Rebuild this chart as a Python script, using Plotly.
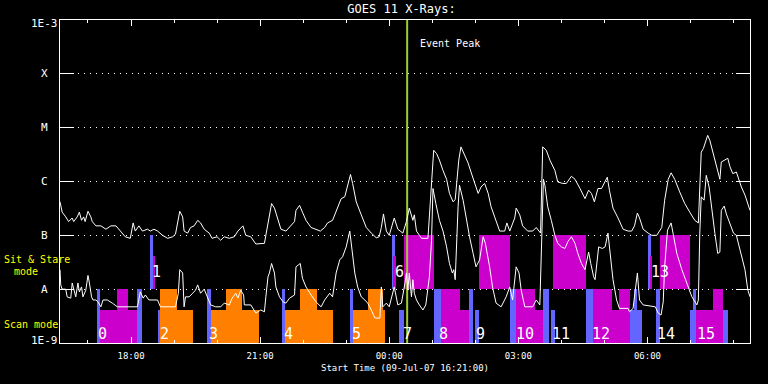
import numpy as np
import pandas as pd
import plotly.graph_objects as go

START = pd.Timestamp("2007-07-09 16:21:00")
WINDOW_MIN = 962  # plotted window length, minutes after start

# GOES 11 long channel (1-8 A), minutes after start / flux W m^-2
long_t = [0, 3, 8, 12, 17, 19, 24, 27, 30, 33,
          35, 39, 43, 45, 50, 57, 64, 71, 78, 84,
          91, 98, 102, 105, 110, 115, 122, 126, 131, 136,
          143, 150, 157, 161, 167, 171, 173, 178, 182, 187,
          192, 196, 201, 208, 212, 219, 224, 229, 236, 243,
          248, 255, 259, 266, 273, 285, 287, 290, 292, 295,
          299, 304, 308, 315, 320, 327, 329, 334, 338, 343,
          350, 357, 363, 369, 373, 380, 385, 392, 397, 401,
          405, 408, 413, 420, 427, 434, 441, 445, 448, 451,
          455, 459, 466, 471, 478, 483, 487, 492, 494, 497,
          501, 504, 513, 516, 519, 521, 525, 529, 534, 539,
          543, 548, 551, 553, 556, 559, 564, 569, 573, 578,
          583, 587, 592, 597, 601, 606, 613, 620, 623, 627,
          634, 636, 641, 645, 652, 659, 664, 670, 672, 673,
          678, 683, 690, 694, 701, 706, 713, 718, 725, 732,
          737, 741, 745, 750, 755, 759, 763, 766, 771, 778,
          785, 792, 797, 801, 805, 808, 813, 820, 825, 832,
          839, 843, 848, 852, 857, 864, 871, 878, 885, 890,
          892, 894, 897, 899, 903, 906, 911, 915, 920, 922,
          927, 931, 934, 938, 943, 946, 950, 955, 959, 962]
long_flux = [4.2e-7, 2.7e-7, 2.2e-7, 1.8e-7, 2.1e-7, 1.8e-7, 2.2e-7, 2.7e-7, 1.9e-7, 2.2e-7,
             1.8e-7, 2.8e-7, 2.2e-7, 1.8e-7, 1.5e-7, 1.5e-7, 1.3e-7, 1.5e-7, 1.5e-7, 1.2e-7,
             9.4e-8, 8.8e-8, 1.7e-7, 1.2e-7, 1.5e-7, 1.2e-7, 1.3e-7, 1.2e-7, 1.3e-7, 1.2e-7,
             1.0e-7, 8.8e-8, 9.4e-8, 1.05e-7, 2.8e-7, 2.2e-7, 1.2e-7, 1.1e-7, 1.4e-7, 1.5e-7,
             1.9e-7, 1.7e-7, 1.3e-7, 1.1e-7, 8.8e-8, 9.4e-8, 8.1e-8, 9.4e-8, 8.8e-8, 9.4e-8,
             1.2e-7, 1.5e-7, 1.0e-7, 9.4e-8, 6.9e-8, 7.1e-8, 1.0e-7, 1.9e-7, 2.7e-7, 3.9e-7,
             3.2e-7, 1.9e-7, 1.3e-7, 1.2e-7, 1.4e-7, 1.8e-7, 2.9e-7, 3.6e-7, 2.7e-7, 1.9e-7,
             1.4e-7, 1.3e-7, 1.2e-7, 1.4e-7, 1.7e-7, 1.9e-7, 2.9e-7, 4.8e-7, 5.2e-7, 8.5e-7,
             1.35e-6, 9.2e-7, 4.2e-7, 2.4e-7, 1.4e-7, 1.1e-7, 9.0e-8, 9.4e-8, 1.4e-7, 2.5e-7,
             1.2e-7, 1.0e-7, 2.1e-7, 1.3e-7, 1.1e-7, 1.8e-7, 3.2e-7, 1.9e-7, 2.4e-7, 1.2e-7,
             1.0e-7, 8.8e-8, 8.8e-8, 3.4e-7, 1.4e-6, 3.8e-6, 3.3e-6, 2.5e-6, 1.6e-6, 1.1e-6,
             6.0e-7, 4.2e-7, 4.6e-7, 9.2e-7, 2.5e-6, 4.4e-6, 3.1e-6, 2.2e-6, 1.5e-6, 9.8e-7,
             6.0e-7, 7.9e-7, 9.2e-7, 6.0e-7, 3.4e-7, 2.2e-7, 1.2e-7, 1.2e-7, 1.7e-7, 1.2e-7,
             2.1e-7, 3.2e-7, 2.4e-7, 1.5e-7, 1.2e-7, 1.2e-7, 1.4e-7, 1.1e-7, 1.4e-6, 4.4e-6,
             3.8e-6, 2.5e-6, 1.6e-6, 9.8e-7, 9.2e-7, 9.2e-7, 1.25e-6, 1.1e-6, 7.4e-7, 4.8e-7,
             6.9e-7, 6.0e-7, 4.2e-7, 7.4e-7, 7.4e-7, 9.2e-7, 1.2e-6, 6.9e-7, 3.2e-7, 2.1e-7,
             1.3e-7, 1.2e-7, 1.2e-7, 1.5e-7, 2.6e-7, 2.1e-7, 1.3e-7, 1.1e-7, 1.0e-7, 1.0e-7,
             1.4e-7, 4.5e-7, 1.1e-6, 1.45e-6, 1.1e-6, 6.4e-7, 3.9e-7, 2.7e-7, 1.9e-7, 1.7e-7,
             7.9e-7, 3.5e-6, 4.1e-6, 5.1e-6, 7.2e-6, 5.8e-6, 3.3e-6, 1.9e-6, 1.1e-6, 2.3e-6,
             2.5e-6, 2.7e-6, 1.9e-6, 1.4e-6, 1.5e-6, 1.1e-6, 7.9e-7, 5.6e-7, 3.6e-7, 2.9e-7]

# GOES 11 short channel (0.5-4 A)
short_t = [0, 1, 3, 8, 10, 15, 17, 19, 22, 25,
           27, 30, 32, 36, 39, 41, 44, 46, 50, 53,
           57, 60, 66, 73, 80, 108, 110, 112, 116, 119,
           124, 136, 140, 161, 165, 167, 171, 173, 175, 180,
           185, 189, 192, 196, 201, 205, 210, 217, 224, 229,
           236, 240, 245, 248, 252, 256, 257, 266, 273, 280,
           285, 287, 290, 292, 295, 299, 301, 306, 311, 315,
           320, 327, 329, 332, 335, 338, 343, 350, 357, 364,
           369, 376, 380, 385, 390, 394, 399, 404, 407, 411,
           415, 420, 425, 429, 434, 439, 446, 448, 450, 455,
           459, 466, 471, 476, 481, 483, 485, 487, 490, 492,
           494, 497, 501, 506, 510, 515, 518, 520, 524, 529,
           534, 539, 543, 547, 549, 551, 555, 557, 562, 566,
           571, 576, 580, 585, 590, 593, 599, 603, 608, 615,
           622, 627, 631, 636, 640, 643, 648, 659, 664, 669,
           671, 674, 676, 680, 685, 690, 694, 699, 704, 708,
           713, 718, 722, 727, 732, 737, 740, 744, 746, 751,
           756, 760, 764, 767, 771, 776, 780, 792, 794, 799,
           803, 805, 808, 813, 830, 834, 838, 841, 843, 847,
           852, 855, 860, 867, 874, 881, 888, 890, 892, 894,
           898, 901, 905, 908, 913, 917, 920, 922, 926, 929,
           934, 939, 943, 946, 950, 955, 959, 962]
short_flux = [2.3e-8, 1.2e-8, 1.0e-8, 1.0e-8, 7.2e-9, 6.8e-9, 1.3e-8, 1.0e-8, 7.2e-9, 1.3e-8,
              8.9e-9, 1.1e-8, 7.2e-9, 9.6e-9, 1.8e-8, 1.3e-8, 7.2e-9, 6.3e-9, 6.3e-9, 5.8e-9,
              4.7e-9, 6.3e-9, 6.3e-9, 5.5e-9, 4.7e-9, 4.7e-9, 7.2e-9, 8.9e-9, 6.8e-9, 7.8e-9,
              6.3e-9, 6.3e-9, 4.7e-9, 4.7e-9, 8.4e-9, 2.3e-8, 2.0e-8, 4.7e-9, 7.2e-9, 7.2e-9,
              8.4e-9, 9.6e-9, 1.2e-8, 8.4e-9, 1.0e-8, 7.2e-9, 5.1e-9, 4.7e-9, 4.7e-9, 5.5e-9,
              5.1e-9, 6.8e-9, 8.4e-9, 6.8e-9, 9.6e-9, 7.8e-9, 5.1e-9, 5.1e-9, 3.6e-9, 4.1e-9,
              3.8e-9, 7.2e-9, 1.7e-8, 2.0e-8, 3.0e-8, 2.0e-8, 1.1e-8, 7.2e-9, 5.8e-9, 5.5e-9,
              6.8e-9, 7.8e-9, 2.6e-8, 2.8e-8, 3.0e-8, 1.6e-8, 1.1e-8, 7.8e-9, 5.8e-9, 4.7e-9,
              6.3e-9, 8.4e-9, 7.2e-9, 2.0e-8, 3.5e-8, 4.0e-8, 6.1e-8, 1.2e-7, 5.3e-8, 2.0e-8,
              1.1e-8, 7.2e-9, 6.3e-9, 5.5e-9, 4.1e-9, 2.9e-9, 2.9e-9, 1.1e-8, 4.7e-9, 5.5e-9,
              4.7e-9, 1.1e-8, 5.1e-9, 5.5e-9, 1.3e-8, 2.0e-8, 9.6e-9, 2.0e-8, 7.2e-9, 1.5e-8,
              8.4e-9, 6.3e-9, 5.1e-9, 4.1e-9, 5.1e-9, 1.7e-8, 8.1e-8, 7.4e-7, 3.9e-7, 1.9e-7,
              1.2e-7, 6.1e-8, 3.0e-8, 2.0e-8, 2.3e-8, 1.5e-8, 3.4e-7, 8.5e-7, 4.5e-7, 2.2e-7,
              9.4e-8, 4.6e-8, 2.6e-8, 3.5e-8, 9.4e-8, 7.1e-8, 2.6e-8, 1.1e-8, 5.5e-9, 4.7e-9,
              7.2e-9, 1.1e-8, 6.3e-9, 2.6e-8, 2.0e-8, 9.6e-9, 4.7e-9, 4.7e-9, 6.3e-9, 5.1e-9,
              4.0e-8, 1.1e-6, 8.5e-7, 3.4e-7, 1.9e-7, 1.0e-7, 7.1e-8, 6.1e-8, 5.7e-8, 7.6e-8,
              9.4e-8, 7.1e-8, 4.6e-8, 3.0e-8, 2.3e-8, 4.9e-8, 3.0e-8, 1.7e-8, 1.5e-8, 6.1e-8,
              5.7e-8, 6.1e-8, 1.1e-7, 4.6e-8, 1.5e-8, 6.3e-9, 4.4e-9, 4.4e-9, 3.8e-9, 4.4e-9,
              1.3e-8, 2.0e-8, 6.3e-9, 5.1e-9, 4.7e-9, 3.6e-9, 3.3e-9, 5.8e-9, 2.6e-8, 1.25e-7,
              1.7e-7, 1.1e-7, 4.6e-8, 2.3e-8, 1.3e-8, 7.2e-9, 5.1e-9, 6.3e-9, 1.1e-7, 5.2e-7,
              4.5e-7, 1.3e-6, 7.9e-7, 3.4e-7, 1.1e-7, 4.6e-8, 4.9e-8, 2.9e-7, 3.5e-7, 2.5e-7,
              1.7e-7, 1.1e-7, 1.0e-7, 7.1e-8, 4.0e-8, 2.3e-8, 9.6e-9, 7.2e-9]

# Observing blocks: minutes after start, flux extent, block type
block_start = [51, 56, 80, 108, 137.5, 140, 140, 205.5, 210, 231,
               310, 314, 335, 405, 409, 430, 473, 522, 530.5, 557,
               570, 578, 627, 636, 662, 674, 684, 733, 743, 769,
               780, 795, 800, 830.5, 878, 883, 887, 911, 925,
               126, 129, 462.5, 464.5, 479, 584, 688, 820, 822, 836]
block_end = [56, 107, 95, 114, 140, 185.5, 163, 210, 277, 254,
             314, 381, 358.5, 409, 453, 451, 479, 530.5, 557, 570,
             575.5, 584, 636, 662, 674, 682, 690.5, 743, 769, 780,
             795, 811.5, 805, 836.5, 887, 887, 925, 925, 932,
             129.5, 132.5, 466.5, 468, 522, 627, 733, 824, 826, 878]
block_low = [1e-9] * 39 + [1e-8] * 10
block_high = [1e-8, 4.1e-9, 1e-8, 1e-8, 4.1e-9, 4.1e-9, 1e-8, 1e-8, 4.1e-9, 1e-8,
              1e-8, 4.1e-9, 1e-8, 1e-8, 4.1e-9, 1e-8, 4.1e-9, 1e-8, 1e-8, 4.1e-9,
              1e-8, 4.1e-9, 1e-8, 1e-8, 4.1e-9, 1e-8, 4.1e-9, 1e-8, 1e-8, 4.1e-9,
              1e-8, 4.1e-9, 1e-8, 1e-8, 4.1e-9, 1e-8, 4.1e-9, 1e-8, 4.1e-9,
              1e-7, 4.1e-8, 1e-7, 4.1e-8, 1e-7, 1e-7, 1e-7, 1e-7, 4.1e-8, 1e-7]
block_type = ["cal", "m", "m", "cal", "cal", "o", "o", "cal", "o", "o",
              "cal", "o", "o", "cal", "o", "o", "cal", "cal", "m", "m",
              "cal", "cal", "cal", "m", "m", "cal", "cal", "cal", "m", "m",
              "m", "cal", "cal", "cal", "cal", "cal", "m", "m", "cal",
              "cal", "m", "cal", "m", "m", "m", "m", "cal", "m", "m"]

# Event numbers
event_ids = [str(i) for i in range(16)]
event_t = [50, 125, 137, 205.5, 310, 404, 463.6, 475.4, 525.6, 577.6,
           632.4, 683.3, 739.2, 820.8, 830, 885]
event_mode = ["scan", "sas", "scan", "scan", "scan", "scan", "sas", "scan",
              "scan", "scan", "scan", "scan", "scan", "sas", "scan", "scan"]

peak_t = 484
level_names = ["1E-9", "A", "B", "C", "M", "X", "1E-3"]
level_vals = [1e-9, 1e-8, 1e-7, 1e-6, 1e-5, 1e-4, 1e-3]

FONT = "DejaVu Sans Mono"
COLORS = {"cal": "#6464ff", "m": "#cc00cc", "o": "#ff8000"}


def to_time(minutes):
    return START + pd.to_timedelta(np.asarray(minutes, dtype=float), unit="min")


fig = go.Figure()

bs = np.array(block_start, dtype=float)
be = np.array(block_end, dtype=float)
lo = np.array(block_low)
hi = np.array(block_high)
fig.add_trace(go.Bar(
    x=to_time((bs + be) / 2), width=(be - bs) * 60000.0,
    base=lo, y=hi - lo,
    marker=dict(color=[COLORS[k] for k in block_type], line=dict(width=0)),
    hoverinfo="skip"))

pk = to_time([peak_t, peak_t])
fig.add_trace(go.Scatter(x=pk, y=[level_vals[0], level_vals[-1]], mode="lines",
                         line=dict(color="#9acd32", width=2), hoverinfo="skip"))

fig.add_trace(go.Scatter(x=to_time(long_t), y=long_flux, mode="lines",
                         line=dict(color="white", width=1)))
fig.add_trace(go.Scatter(x=to_time(short_t), y=short_flux, mode="lines",
                         line=dict(color="white", width=1)))

ann = []
for i, (name, v) in enumerate(zip(level_names, level_vals)):
    shift = 3 if i == 0 else (-3 if i == len(level_vals) - 1 else 0)
    ann.append(dict(x=0, xref="paper", xshift=-16, xanchor="center",
                    y=np.log10(v), yref="y", yshift=shift, yanchor="middle",
                    text=name, showarrow=False, font=dict(size=11, color="white", family=FONT)))

for eid, t, mode in zip(event_ids, event_t, event_mode):
    yv = 1.5e-9 if mode == "scan" else 2.1e-8
    ann.append(dict(x=to_time([t])[0], y=np.log10(yv), xanchor="left", yanchor="middle",
                    text=eid, showarrow=False, font=dict(size=15, color="white", family=FONT)))

ann.append(dict(x=pk[0], xshift=11, y=np.log10(3.7e-4), xanchor="left", yanchor="middle",
                text="Event Peak", showarrow=False, font=dict(size=10, color="white", family=FONT)))

ann += [
    dict(x=-0.0845, xref="paper", y=0.26, yref="paper", xanchor="left", yanchor="middle",
         text="Sit & Stare", showarrow=False, font=dict(size=10, color="#ffff00", family=FONT)),
    dict(x=-0.0691, xref="paper", y=0.2229, yref="paper", xanchor="left", yanchor="middle",
         text="mode", showarrow=False, font=dict(size=10, color="#ffff00", family=FONT)),
    dict(x=-0.0845, xref="paper", y=0.0588, yref="paper", xanchor="left", yanchor="middle",
         text="Scan mode", showarrow=False, font=dict(size=10, color="#ffff00", family=FONT)),
    dict(x=0.5, xref="paper", y=0, yref="paper", yshift=-25, xanchor="center", yanchor="middle",
         text=f"Start Time ({START:%d-%b-%y %H:%M:%S})", showarrow=False,
         font=dict(size=9, color="white", family=FONT)),
]

fig.update_layout(
    width=768, height=384,
    margin=dict(l=60, r=18, t=20, b=41),
    paper_bgcolor="black", plot_bgcolor="black",
    showlegend=False, barmode="overlay", bargap=0,
    font=dict(family=FONT, color="white"),
    title=dict(text="GOES 11 X-Rays:", x=0.495, xref="paper", xanchor="center",
               y=1 - 8.5 / 384, yref="container", yanchor="middle",
               font=dict(size=12, color="white", family=FONT)),
    annotations=ann,
)

fig.update_xaxes(
    type="date",
    range=[START, START + pd.Timedelta(minutes=WINDOW_MIN)],
    showline=True, linecolor="white", linewidth=1, mirror="ticks",
    ticks="inside", ticklen=6, tickcolor="white", tickwidth=1,
    tick0="2007-07-09 18:00", dtick=3 * 3600000, tickformat="%H:%M",
    tickfont=dict(size=9, color="white", family=FONT),
    ticklabelstandoff=4,
    minor=dict(ticks="inside", ticklen=3, tickcolor="white", dtick=3600000,
               tick0="2007-07-09 17:00", showgrid=False),
    showgrid=False, zeroline=False,
)
fig.update_yaxes(
    type="log", range=[-9, -3],
    showline=True, linecolor="white", linewidth=1, mirror="ticks",
    ticks="inside", ticklen=14, tickcolor="white",
    tickmode="array", tickvals=level_vals, showticklabels=False,
    showgrid=True, gridcolor="white", gridwidth=1, griddash="1px,5px",
    zeroline=False,
)

fig.write_html("out.html", config={"displayModeBar": False},
               post_script="document.body.style.margin='0';document.body.style.overflow='hidden';")
